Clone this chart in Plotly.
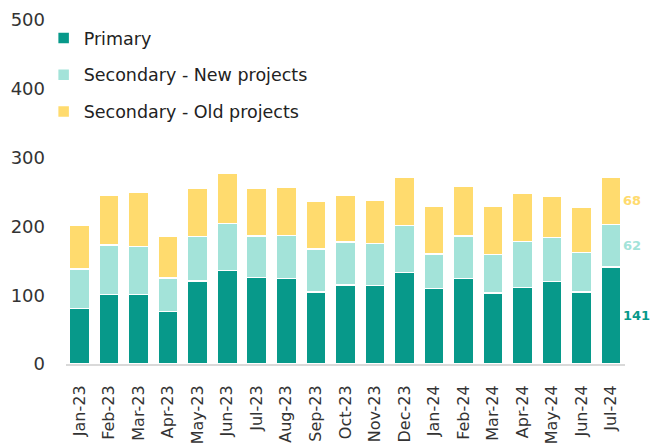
import plotly.graph_objects as go

months = ["Jan-23", "Feb-23", "Mar-23", "Apr-23", "May-23", "Jun-23", "Jul-23", "Aug-23",
          "Sep-23", "Oct-23", "Nov-23", "Dec-23", "Jan-24", "Feb-24", "Mar-24", "Apr-24",
          "May-24", "Jun-24", "Jul-24"]
primary = [81, 101, 101, 76, 121, 136, 126, 124, 105, 115, 114, 133, 110, 124, 103, 111, 120, 105, 141]
sec_new = [57, 72, 70, 49, 64, 68, 60, 63, 62, 62, 61, 68, 50, 62, 56, 67, 64, 57, 62]
sec_old = [64, 73, 79, 60, 71, 73, 69, 70, 69, 68, 63, 71, 69, 73, 70, 70, 60, 66, 68]
y_ticks = [0, 100, 200, 300, 400, 500]

names = ["Primary", "Secondary - New projects", "Secondary - Old projects"]
colors = ["#07998A", "#A3E3D9", "#FFDB6E"]
series = [primary, sec_new, sec_old]

FONT = "DejaVu Sans"
fig = go.Figure()
for i, (n, c, s) in enumerate(zip(names, colors, series)):
    fig.add_trace(go.Bar(x=months, y=s, name=n,
                         marker=dict(color=c, line=dict(color="white", width=1.5)),
                         legendgroup=str(i)))

# value labels for the last bar
base = 0
for n, c, s in zip(names, colors, series):
    v = s[-1]
    fig.add_annotation(x=months[-1], y=base + v / 2, text=f"<b>{v}</b>", showarrow=False,
                       xanchor="left", xshift=10, font=dict(color=c, size=13, family=FONT))
    base += v

fig.update_layout(
    barmode="stack",
    bargap=0.32,
    width=651, height=443,
    margin=dict(l=66, r=26, t=20, b=79, autoexpand=False),
    plot_bgcolor="white", paper_bgcolor="white",
    font=dict(family=FONT, color="#333333"),
    legend=dict(x=-0.04, y=1.0, xanchor="left", yanchor="top", traceorder="grouped",
                tracegroupgap=11, font=dict(size=17.5, color="#222222"), bgcolor="rgba(0,0,0,0)"),
    showlegend=True,
)
fig.update_xaxes(range=[-0.46, 18.47], tickangle=-90, showline=True, linecolor="#D9D9D9", linewidth=2,
                 showgrid=False, ticks="", automargin=False, ticklabelstandoff=13,
                 tickfont=dict(size=16, color="#333333", family=FONT))
fig.update_yaxes(range=[0, 500], tickvals=y_ticks, showgrid=False, zeroline=False, automargin=False,
                 showline=False, ticklabelstandoff=20,
                 tickfont=dict(size=18, color="#333333", family=FONT))

fig.write_html("out.html", config={"displayModeBar": False},
               post_script="document.body.style.margin='0';")
